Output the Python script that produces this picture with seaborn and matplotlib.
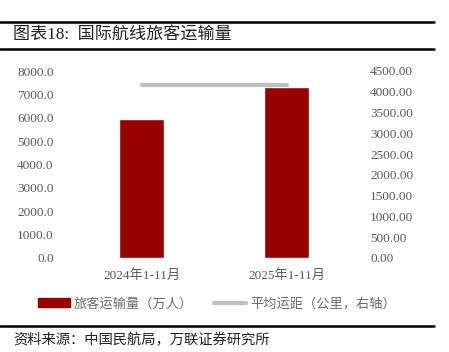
import numpy as np
import pandas as pd
import seaborn as sns
import matplotlib.pyplot as plt
from matplotlib.lines import Line2D
from matplotlib.patches import Patch

# данные
categories = ['2024年1-11月', '2025年1-11月']
passengers = [5950.0, 7310.0]      # 旅客运输量（万人）
avg_distance = [4160.0, 4160.0]    # 平均运距（公里，右轴）

sns.set_theme(style='white')
plt.rcParams['font.family'] = ['Liberation Serif', 'Noto Sans CJK SC', 'DejaVu Sans']

W, H = 449, 352
fig = plt.figure(figsize=(W / 100, H / 100), dpi=100)

ax = fig.add_axes([69 / W, 1 - 258 / H, 290 / W, (258 - 71) / H])
df = pd.DataFrame({'cat': categories, 'val': passengers})
sns.barplot(data=df, x='cat', y='val', color='#990000', width=0.31,
            saturation=1, ax=ax)
ax.set_xlim(-0.5, 1.5)
ax.set_ylim(0, 8000)
ax.set_yticks(np.arange(0, 8001, 1000))
ax.set_yticklabels([f'{v:.1f}' for v in np.arange(0, 8001, 1000)])
ax.set_xlabel('')
ax.set_ylabel('')
ax.tick_params(axis='both', length=0, labelsize=9.5, colors='#595959', pad=8)
ax.tick_params(axis='y', pad=11)
for s in ax.spines.values():
    s.set_visible(False)

ax2 = ax.twinx()
sns.lineplot(x=[0, 1], y=avg_distance, color='#bfbfbf', linewidth=3, ax=ax2)
ax2.set_ylim(0, 4500)
ax2.set_yticks(np.arange(0, 4501, 500))
ax2.set_yticklabels([f'{v:.2f}' for v in np.arange(0, 4501, 500)])
ax2.tick_params(axis='y', length=0, labelsize=9.5, colors='#595959', pad=8)
for s in ax2.spines.values():
    s.set_visible(False)

# заголовок и линии
fig.add_artist(Line2D([0, 434 / W], [1 - 22 / H] * 2, color='black', lw=1.8))
fig.add_artist(Line2D([0, 434 / W], [1 - 49 / H] * 2, color='black', lw=1.8))
fig.text(13 / W, 1 - 36 / H, '图表18:  国际航线旅客运输量', fontsize=12.3,
         va='center', ha='left', color='#222222')

# легенда
handles = [Patch(color='#990000'), Line2D([0], [0], color='#bfbfbf', lw=3)]
fig.legend(handles, ['旅客运输量（万人）', '平均运距（公里，右轴）'],
           loc='center', bbox_to_anchor=(217 / W, 1 - 304 / H), ncol=2,
           frameon=False, fontsize=9.5, labelcolor='#6b6b6b',
           handlelength=2.4, handleheight=0.7, columnspacing=1.6,
           handletextpad=0.3)

fig.add_artist(Line2D([0, 434 / W], [1 - 326 / H] * 2, color='black', lw=1.8))
fig.text(13 / W, 1 - 340 / H, '资料来源：中国民航局，万联证券研究所', fontsize=10.3,
         va='center', ha='left', color='#222222', style='italic')

fig.savefig('out.png', dpi=100)
